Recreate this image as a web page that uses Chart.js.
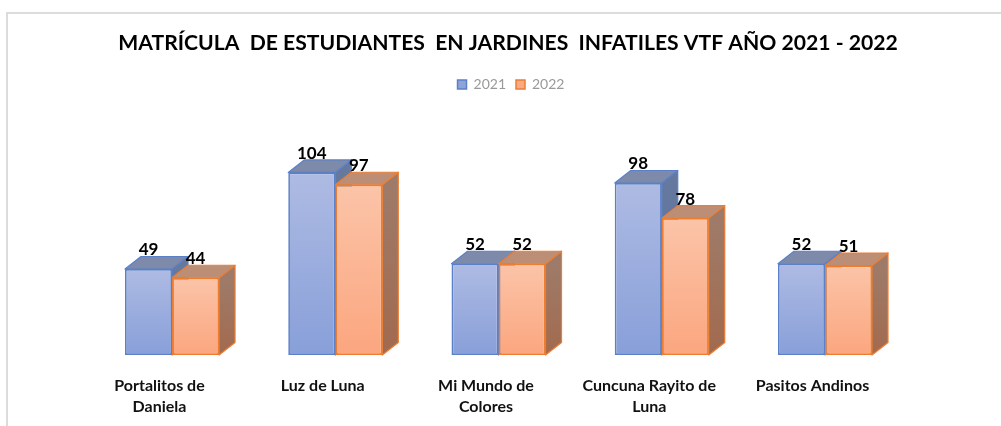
<!DOCTYPE html>
<html>

<head>
  <meta charset="utf-8">
  <title>Matrícula de estudiantes</title>
  <style>
    body { margin: 0; background: #fff; }
    #marco { position: absolute; left: 6px; top: 12px; width: 995px; height: 414px; border-top: 2px solid #dcdcdc; border-left: 2px solid #dcdcdc; box-sizing: border-box; }
    canvas { position: absolute; left: 0; top: 0; }
  </style>
</head>

<body>
  <canvas id="grafico" width="1001" height="426"></canvas>
  <div id="marco"></div>

  <script src="https://cdn.jsdelivr.net/npm/chart.js"></script>

  <script>
    const titulo = 'MATRÍCULA  DE ESTUDIANTES  EN JARDINES  INFATILES VTF AÑO 2021 - 2022';
    const jardines = [['Portalitos de', 'Daniela'], 'Luz de Luna', ['Mi Mundo de', 'Colores'], ['Cuncuna Rayito de', 'Luna'], 'Pasitos Andinos'];
    const anios = ['2021', '2022'];
    const valores2021 = [49, 104, 52, 98, 52];
    const valores2022 = [44, 97, 52, 78, 51];

    // colores de cada serie: frente, borde, cara superior y cara lateral
    const estilos = [
      { arriba: '#aebbe3', abajo: '#889fd9', borde: '#5b80c8', tapa: '#7d8aa9', ladoA: '#65799f', ladoB: '#5a7099', leyenda: '#8ea3d8' },
      { arriba: '#fbc4a8', abajo: '#fba67f', borde: '#ed7d31', tapa: '#bc8e76', ladoA: '#9e7b69', ladoB: '#a26a4e', leyenda: '#f6aa85' }
    ];
    const fondoX = 16;
    const fondoY = 12.5;

    function degradado(context) {
      const chart = context.chart;
      const estilo = estilos[context.datasetIndex];
      const y = chart.scales.y;
      const valor = context.dataset.data[context.dataIndex];
      const g = chart.ctx.createLinearGradient(0, y.getPixelForValue(valor), 0, y.getPixelForValue(0));
      g.addColorStop(0, estilo.arriba);
      g.addColorStop(1, estilo.abajo);
      return g;
    }

    const caras3d = {
      id: 'caras3d',
      // titulo y leyenda van un poco a la derecha del centro del area
      afterLayout(chart) {
        chart.titleBlock.left += 19;
        chart.legend.left += 25;
      },
      // caras superior y lateral de las barras, se dibujan antes del frente
      beforeDatasetsDraw(chart) {
        const ctx = chart.ctx;
        chart.data.datasets.forEach((ds, i) => {
          const estilo = estilos[i];
          chart.getDatasetMeta(i).data.forEach((barra) => {
            const izq = barra.x - barra.width / 2;
            const der = barra.x + barra.width / 2;
            ctx.save();
            ctx.strokeStyle = estilo.borde;
            ctx.lineWidth = 1.2;
            ctx.lineJoin = 'round';

            const g = ctx.createLinearGradient(0, barra.y, 0, barra.base);
            g.addColorStop(0, estilo.ladoA);
            g.addColorStop(1, estilo.ladoB);
            ctx.fillStyle = g;
            ctx.beginPath();
            ctx.moveTo(der, barra.y);
            ctx.lineTo(der + fondoX, barra.y - fondoY);
            ctx.lineTo(der + fondoX, barra.base - fondoY);
            ctx.lineTo(der, barra.base);
            ctx.closePath();
            ctx.fill();
            ctx.stroke();

            ctx.fillStyle = estilo.tapa;
            ctx.beginPath();
            ctx.moveTo(izq, barra.y);
            ctx.lineTo(izq + fondoX, barra.y - fondoY);
            ctx.lineTo(der + fondoX, barra.y - fondoY);
            ctx.lineTo(der, barra.y);
            ctx.closePath();
            ctx.fill();
            ctx.stroke();
            ctx.restore();
          });
        });
      },
      // etiquetas de datos
      afterDatasetsDraw(chart) {
        const ctx = chart.ctx;
        ctx.save();
        ctx.font = 'bold 17px Lato';
        ctx.fillStyle = '#000';
        ctx.textAlign = 'center';
        ctx.textBaseline = 'middle';
        chart.data.datasets.forEach((ds, i) => {
          chart.getDatasetMeta(i).data.forEach((barra, j) => {
            ctx.fillText(ds.data[j], barra.x, barra.y - 19);
          });
        });
        ctx.restore();
      }
    };

    new Chart(document.getElementById('grafico'), {
      type: 'bar',
      data: {
        labels: jardines,
        datasets: [
          { label: anios[0], data: valores2021, backgroundColor: degradado, borderColor: estilos[0].borde, borderWidth: 1.7, borderSkipped: false },
          { label: anios[1], data: valores2022, backgroundColor: degradado, borderColor: estilos[1].borde, borderWidth: 1.7, borderSkipped: false }
        ]
      },
      options: {
        responsive: false,
        animation: false,
        categoryPercentage: 0.576,
        barPercentage: 1,
        layout: { padding: { left: 90.4, right: 94.4, top: 0, bottom: 0 } },
        plugins: {
          tooltip: { enabled: false },
          title: {
            display: true,
            text: titulo,
            color: '#000',
            font: { family: 'Lato', size: 21.15, weight: 'bold' },
            padding: { top: 30, bottom: 12 }
          },
          legend: {
            position: 'top',
            labels: {
              boxWidth: 9,
              boxHeight: 9,
              padding: 10,
              color: '#999',
              font: { family: 'Lato', size: 14 },
              generateLabels: () => estilos.map((e, i) => ({
                text: anios[i],
                fillStyle: e.leyenda,
                strokeStyle: e.borde,
                fontColor: '#999',
                lineWidth: 1.5,
                datasetIndex: i
              }))
            }
          }
        },
        scales: {
          x: {
            grid: { display: false, drawTicks: false },
            border: { display: false },
            afterFit(scale) { scale.height = 71; },
            ticks: {
              autoSkip: false,
              maxRotation: 0,
              padding: 20,
              labelOffset: -12.5,
              color: '#111',
              font: { family: 'Lato', size: 16, weight: 'bold', lineHeight: 1.31 }
            }
          },
          y: { display: false, min: 0, max: 144.5 }
        }
      },
      plugins: [caras3d]
    });
  </script>
</body>

</html>
